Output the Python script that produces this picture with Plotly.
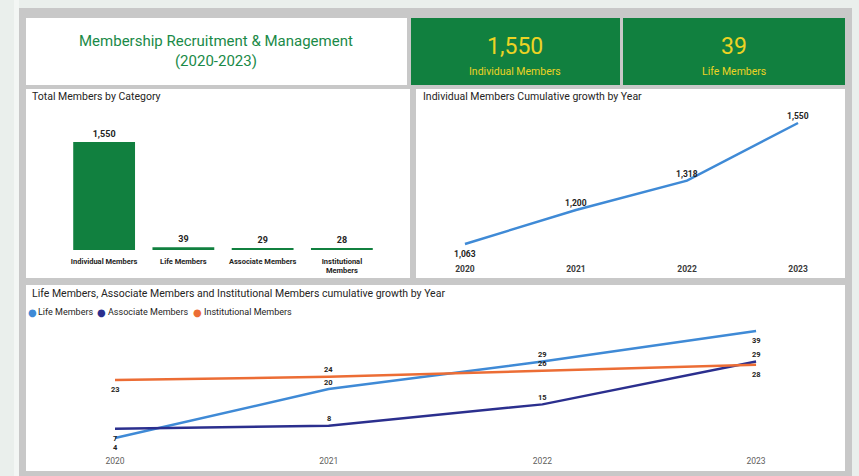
import plotly.graph_objects as go

# ---------------- data ----------------
categories = ["Individual Members", "Life Members", "Associate Members", "Institutional Members"]
category_tick_labels = ["Individual Members", "Life Members", "Associate Members", "Institutional<br>Members"]
category_totals = [1550, 39, 29, 28]

years = ["2020", "2021", "2022", "2023"]
individual_cum = [1063, 1200, 1318, 1550]
life_cum = [4, 20, 29, 39]
associate_cum = [7, 8, 15, 29]
institutional_cum = [23, 24, 26, 28]

kpi_values = ["1,550", "39"]
kpi_labels = ["Individual Members", "Life Members"]

# ---------------- style ----------------
W, H = 859, 476
FONT = "Roboto"
GREEN = "#11803f"
YELLOW = "#ecd324"
DARK = "#252423"
C_LIFE = "#3f8ad6"
C_ASSOC = "#2b2f8e"
C_INST = "#ec6d35"
UP, DOWN = 7, -9.5


def px(x):
    return x / W


def py(y):
    return 1 - y / H


def rect(x0, y0, x1, y1, color):
    return dict(type="rect", xref="paper", yref="paper", x0=px(x0), x1=px(x1),
                y0=py(y1), y1=py(y0), fillcolor=color, line=dict(width=0), layer="below")


fig = go.Figure()
annotations = []

# Bar chart
fig.add_trace(go.Bar(
    x=categories, y=category_totals, marker=dict(color=GREEN, line=dict(width=0)),
    text=[f"{v:,}" for v in category_totals], textposition="outside",
    textfont=dict(family=FONT, size=9, color=DARK, weight="bold"),
    cliponaxis=False, xaxis="x", yaxis="y", showlegend=False, hoverinfo="skip",
))

# Individual members cumulative line
fig.add_trace(go.Scatter(
    x=years, y=individual_cum, mode="lines",
    line=dict(color=C_LIFE, width=2.5),
    cliponaxis=False, xaxis="x2", yaxis="y2", showlegend=False, hoverinfo="skip",
))
for i, (v, sh) in enumerate(zip(individual_cum, [DOWN, UP, UP, UP])):
    annotations.append(dict(text=f"{v:,}", x=i, y=v, xref="x2", yref="y2", yshift=sh,
                            font=dict(family=FONT, size=8.5, color=DARK, weight="bold")))

# Bottom chart lines
series = [
    ("Life Members", life_cum, C_LIFE, [DOWN, UP, UP, DOWN]),
    ("Associate Members", associate_cum, C_ASSOC, [DOWN, UP, UP, UP]),
    ("Institutional Members", institutional_cum, C_INST, [DOWN, UP, UP, DOWN]),
]
for name, vals, col, shifts in series:
    fig.add_trace(go.Scatter(
        x=years, y=vals, mode="lines", name=name,
        line=dict(color=col, width=2.5),
        cliponaxis=False, xaxis="x3", yaxis="y3", showlegend=False, hoverinfo="skip",
    ))
    for i, (v, sh) in enumerate(zip(vals, shifts)):
        annotations.append(dict(text=f"{v:,}", x=i, y=v, xref="x3", yref="y3", yshift=sh,
                                font=dict(family=FONT, size=7.5, color=DARK, weight="bold")))

shapes = [
    rect(14, 0, 19, 476, "#f3f6f4"),
    rect(19, 8, 852, 476, "#c8c8c8"),
    rect(26, 18, 407, 85, "#ffffff"),
    rect(411, 18, 620, 85, GREEN),
    rect(623, 18, 845, 85, GREEN),
    rect(26, 89, 410, 278, "#ffffff"),
    rect(416, 89, 845, 278, "#ffffff"),
    rect(26, 285, 845, 471, "#ffffff"),
]

# custom legend (bullet + label)
legend_names = [s[0] for s in series]
legend_colors = [s[2] for s in series]
legend_bullet_x = [32, 101.7, 197.7]
for name, col, bx in zip(legend_names, legend_colors, legend_bullet_x):
    annotations.append(dict(text="●", x=px(bx), y=py(312), xanchor="center",
                            font=dict(family="DejaVu Sans", size=10, color=col)))
    annotations.append(dict(text=name, x=px(bx + 3.8), y=py(312), xanchor="left",
                            font=dict(family=FONT, size=9, color=DARK)))

annotations += [
    dict(text="Membership Recruitment & Management<br>(2020-2023)", x=px(216), y=py(51),
         font=dict(family=FONT, size=15, color="#1a8a48")),
    dict(text=kpi_values[0], x=px(515), y=py(47), font=dict(family=FONT, size=23, color=YELLOW)),
    dict(text=kpi_labels[0], x=px(515), y=py(71), font=dict(family=FONT, size=10.5, color=YELLOW)),
    dict(text=kpi_values[1], x=px(734), y=py(47), font=dict(family=FONT, size=23, color=YELLOW)),
    dict(text=kpi_labels[1], x=px(734), y=py(71), font=dict(family=FONT, size=10.5, color=YELLOW)),
    dict(text="Total Members by Category", x=px(30), y=py(97), xanchor="left",
         font=dict(family=FONT, size=10.5, color=DARK)),
    dict(text="Individual Members Cumulative growth by Year", x=px(421), y=py(97), xanchor="left",
         font=dict(family=FONT, size=10.5, color=DARK)),
    dict(text="Life Members, Associate Members and Institutional Members cumulative growth by Year",
         x=px(30), y=py(293), xanchor="left",
         font=dict(family=FONT, size=10.5, color=DARK)),
]
for a in annotations:
    a.setdefault("xref", "paper")
    a.setdefault("yref", "paper")
    a.setdefault("showarrow", False)
    a.setdefault("yanchor", "middle")
    a.setdefault("xanchor", "center")
    a.setdefault("align", "center")

axis_common = dict(showgrid=False, zeroline=False, showline=False, fixedrange=True)

fig.update_layout(
    width=W, height=H, autosize=False,
    margin=dict(l=0, r=0, t=0, b=0, pad=0),
    paper_bgcolor="#eaefec", plot_bgcolor="rgba(0,0,0,0)",
    shapes=shapes, annotations=annotations,
    bargap=0.22,
    xaxis=dict(domain=[px(64.5), px(381.5)], type="category", tickvals=categories,
               ticktext=category_tick_labels, anchor="y", ticklabelstandoff=5,
               tickfont=dict(family=FONT, size=7.5, color=DARK, weight="bold"), **axis_common),
    yaxis=dict(domain=[py(250), py(115)], range=[0, 1937.5], visible=False, anchor="x", **axis_common),
    xaxis2=dict(domain=[px(430), px(833)], type="category", range=[-0.315, 3.315], anchor="y2",
                ticklabelstandoff=4,
                tickfont=dict(family=FONT, size=8.5, color="#3a3a3a", weight="bold"), **axis_common),
    yaxis2=dict(domain=[py(258), py(110)], range=[1006.7, 1602.3], visible=False, anchor="x2", **axis_common),
    xaxis3=dict(domain=[px(40), px(830)], type="category", range=[-0.351, 3.346], anchor="y3",
                ticklabelstandoff=2,
                tickfont=dict(family=FONT, size=8.5, color="#605e5c"), **axis_common),
    yaxis3=dict(domain=[py(452), py(320)], range=[-0.58, 42.6], visible=False, anchor="x3", **axis_common),
)

fig.write_html("out.html", config={"displayModeBar": False},
               post_script="document.body.style.margin='0px';")
